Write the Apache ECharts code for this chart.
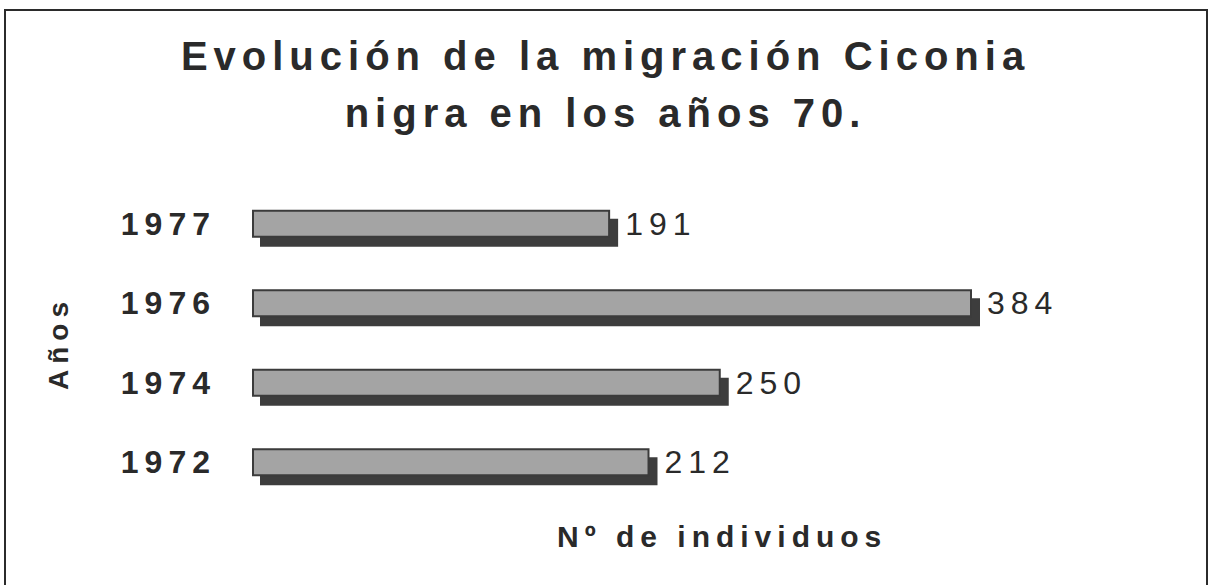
<!DOCTYPE html>
<html>
<head>
<meta charset="utf-8">
<title>Evolución de la migración Ciconia nigra</title>
<script src="https://cdn.jsdelivr.net/npm/echarts@6/dist/echarts.min.js"></script>
<style>
html, body { margin: 0; padding: 0; background: #fff; }
#chart { width: 1211px; height: 585px; }
/* the scanned chart uses wide letter spacing everywhere */
#chart text { letter-spacing: 6px; }
</style>
</head>
<body>
<div id="chart"></div>
<script>
// data
const years = ['1972', '1974', '1976', '1977'];
const individuos = [212, 250, 384, 191];
const titleText = 'Evolución de la migración Ciconia\nnigra en los años 70.';
const xName = 'Nº de individuos';
const yName = 'Años';

const font = "'Liberation Sans', Arial, sans-serif";
const chart = echarts.init(document.getElementById('chart'), null, { renderer: 'svg' });

chart.setOption({
  backgroundColor: '#ffffff',
  animation: false,
  textStyle: { fontFamily: font },
  title: [
    {
      text: titleText,
      left: 'center',
      top: 22,
      textStyle: { fontFamily: font, fontSize: 40, fontWeight: 'bold', color: '#2a2a2a', lineHeight: 57 }
    },
    {
      text: xName,
      left: 552,
      top: 516,
      textAlign: 'left',
      textStyle: { fontFamily: font, fontSize: 30, fontWeight: 'bold', color: '#2a2a2a' }
    }
  ],
  graphic: [
    {
      type: 'rect',
      shape: { x: 5, y: 10, width: 1202, height: 600 },
      style: { fill: 'none', stroke: '#2b2b2b', lineWidth: 2 },
      silent: true
    }
  ],
  grid: { left: 252, right: 239, top: 184, height: 318 },
  xAxis: {
    type: 'value',
    min: 0,
    max: 384,
    axisLine: { show: false },
    axisTick: { show: false },
    axisLabel: { show: false },
    splitLine: { show: false }
  },
  yAxis: {
    type: 'category',
    data: years,
    name: yName,
    nameLocation: 'middle',
    nameRotate: 90,
    nameGap: 180,
    nameTextStyle: { fontFamily: font, fontSize: 28, fontWeight: 'bold', color: '#2a2a2a' },
    axisLine: { show: false },
    axisTick: { show: false },
    axisLabel: { margin: 36, fontFamily: font, fontSize: 32, fontWeight: 'bold', color: '#2a2a2a' }
  },
  series: [
    {
      type: 'bar',
      data: individuos,
      barWidth: 28,
      itemStyle: {
        color: '#a4a4a4',
        borderColor: '#3a3a3a',
        borderWidth: 2,
        shadowColor: '#3c3c3c',
        shadowBlur: 0,
        shadowOffsetX: 8,
        shadowOffsetY: 9
      },
      label: {
        show: true,
        position: 'right',
        distance: 15,
        fontFamily: font,
        fontSize: 32,
        color: '#2a2a2a'
      }
    }
  ]
});
</script>
</body>
</html>
